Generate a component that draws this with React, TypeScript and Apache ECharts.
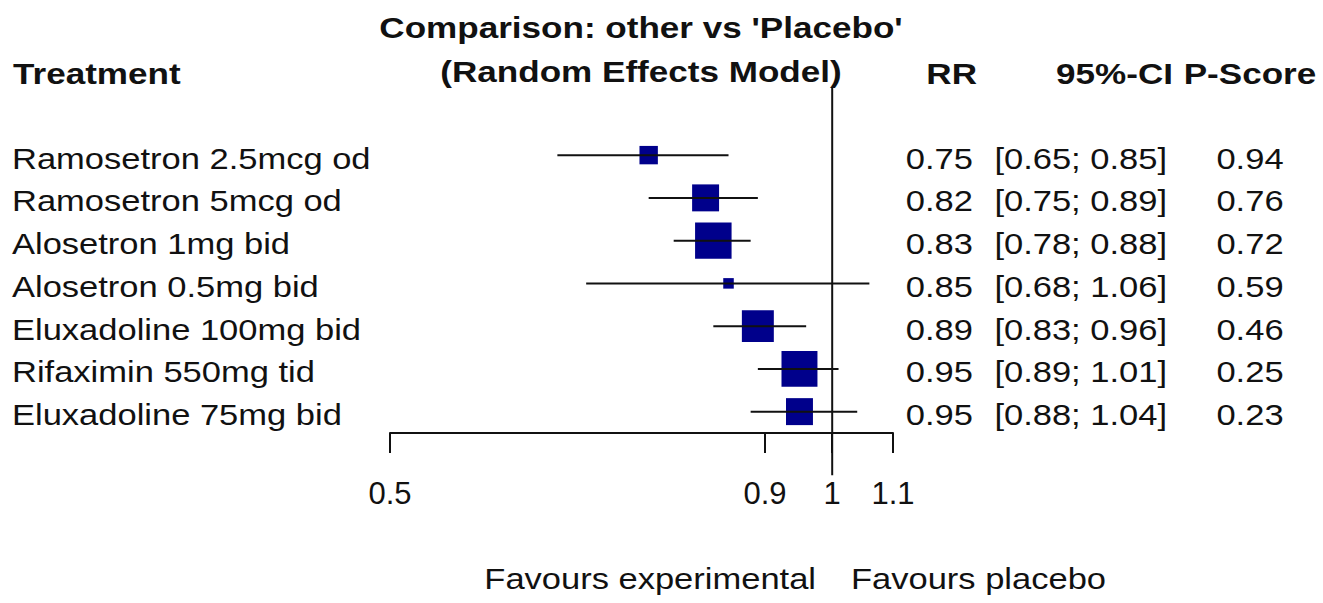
import React, { useEffect, useRef } from 'react';
import * as echarts from 'echarts';

const titleLines = ["Comparison: other vs 'Placebo'", '(Random Effects Model)'];
const treatments = [
  'Ramosetron 2.5mcg od',
  'Ramosetron 5mcg od',
  'Alosetron 1mg bid',
  'Alosetron 0.5mg bid',
  'Eluxadoline 100mg bid',
  'Rifaximin 550mg tid',
  'Eluxadoline 75mg bid',
];
const rr = [0.75, 0.82, 0.83, 0.85, 0.89, 0.95, 0.95];
const ciLower = [0.65, 0.75, 0.78, 0.68, 0.83, 0.89, 0.88];
const ciUpper = [0.85, 0.89, 0.88, 1.06, 0.96, 1.01, 1.04];
const pScore = [0.94, 0.76, 0.72, 0.59, 0.46, 0.25, 0.23];
// relative weights (box area), estimated from square sizes
const weights = [6.1, 13.1, 24.0, 2.0, 18.4, 23.3, 13.1];
const xTicks = [0.5, 0.9, 1, 1.1];
const refValue = 1;
const labelLeft = 'Favours experimental';
const labelRight = 'Favours placebo';

const FONT = '"Liberation Sans", Arial, Helvetica, sans-serif';
const FS = 29;
const SX = 1.19;
const SX_BOLD = 1.21;
const INK = '#111111';
const BOX = '#00008B';

const ROW0 = 158.5;
const ROWH = 42.75;

function txt(text: string, x: number, y: number, align: string, bold = false) {
  return {
    type: 'text',
    x,
    y,
    scaleX: bold ? SX_BOLD : SX,
    silent: true,
    style: {
      text,
      x: 0,
      y: 0,
      font: `${bold ? 'bold ' : ''}${FS}px ${FONT}`,
      fill: INK,
      textAlign: align,
      align,
      textVerticalAlign: 'middle',
      verticalAlign: 'middle',
    },
  };
}

export default function App() {
  const ref = useRef<HTMLDivElement>(null);

  useEffect(() => {
    if (!ref.current) return;
    const chart = echarts.init(ref.current, undefined, { renderer: 'svg' });

    const forestData = treatments.map((_, i) => [i, rr[i], ciLower[i], ciUpper[i], weights[i]]);

    const graphics: any[] = [];
    graphics.push(txt(titleLines[0], 641, 28, 'center', true));
    graphics.push(txt(titleLines[1], 641, 72, 'center', true));
    graphics.push(txt('Treatment', 13, 74, 'left', true));
    graphics.push(txt('RR', 977, 74, 'right', true));
    graphics.push(txt('95%-CI', 1173, 74, 'right', true));
    graphics.push(txt('P-Score', 1250, 74, 'center', true));
    treatments.forEach((t, i) => {
      const y = ROW0 + ROWH * i;
      graphics.push(txt(t, 12, y, 'left'));
      graphics.push(txt(rr[i].toFixed(2), 973, y, 'right'));
      graphics.push(txt(`[${ciLower[i].toFixed(2)}; ${ciUpper[i].toFixed(2)}]`, 1167, y, 'right'));
      graphics.push(txt(pScore[i].toFixed(2), 1250, y, 'center'));
    });
    graphics.push(txt(labelLeft, 816, 579, 'right'));
    graphics.push(txt(labelRight, 851, 579, 'left'));

    const option: any = {
      animation: false,
      backgroundColor: '#ffffff',
      grid: { left: 390, width: 503, top: 91, height: 342, containLabel: false },
      xAxis: {
        type: 'log',
        logBase: 10,
        min: 0.5,
        max: 1.1,
        position: 'bottom',
        splitLine: { show: false },
        axisLine: { show: true, onZero: false, lineStyle: { color: INK, width: 2 } },
        axisTick: {
          show: true,
          inside: false,
          length: 20,
          customValues: xTicks,
          lineStyle: { color: INK, width: 2 },
        },
        axisLabel: {
          show: true,
          customValues: xTicks,
          margin: 45,
          fontSize: 31,
          fontFamily: FONT,
          color: INK,
          formatter: (v: number) => String(Number(v.toFixed(2))),
        },
      },
      yAxis: {
        type: 'value',
        min: -1.5,
        max: 6.5,
        inverse: true,
        show: false,
      },
      series: [
        {
          type: 'custom',
          data: forestData,
          encode: { x: [1, 2, 3], y: 0 },
          clip: false,
          renderItem: (params: any, api: any) => {
            const i = api.value(0);
            const est = api.value(1);
            const lo = api.value(2);
            const hi = api.value(3);
            const w = api.value(4);
            const c = api.coord([est, i]);
            const l = api.coord([lo, i]);
            const h = api.coord([hi, i]);
            const s = 7.45 * Math.sqrt(w);
            return {
              type: 'group',
              children: [
                {
                  type: 'rect',
                  shape: { x: c[0] - s / 2, y: c[1] - s / 2, width: s, height: s },
                  style: { fill: BOX },
                },
                {
                  type: 'line',
                  shape: { x1: l[0], y1: l[1], x2: h[0], y2: h[1] },
                  style: { stroke: INK, lineWidth: 2 },
                },
              ],
            };
          },
        },
        {
          type: 'line',
          data: [
            [refValue, -1.57],
            [refValue, 7.49],
          ],
          clip: false,
          symbol: 'none',
          silent: true,
          lineStyle: { color: INK, width: 2 },
        },
      ],
      graphic: { elements: graphics },
    };

    chart.setOption(option);
    return () => chart.dispose();
  }, []);

  return (
    <div
      ref={ref}
      style={{ position: 'absolute', left: 0, top: 0, width: 1323, height: 603, background: '#fff' }}
    />
  );
}
